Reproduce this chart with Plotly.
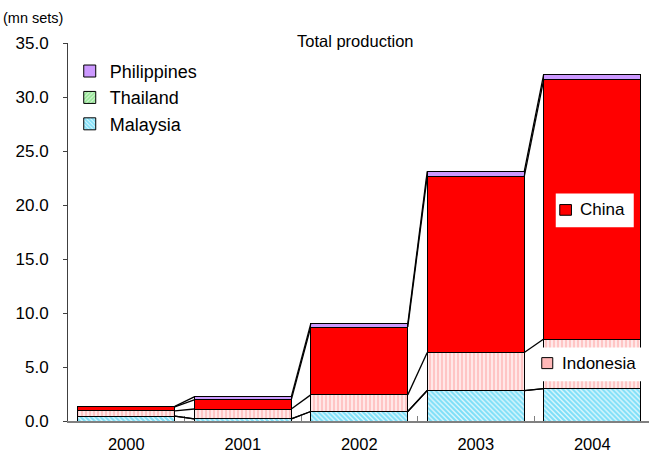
import plotly.graph_objects as go

# Production by country (mn sets), stacked bottom to top
years = ["2000", "2001", "2002", "2003", "2004"]
malaysia = [0.46, 0.20, 0.88, 2.82, 3.00]
thailand = [0.0, 0.0, 0.0, 0.0, 0.0]
indonesia = [0.47, 0.91, 1.54, 3.52, 4.59]
china = [0.37, 0.85, 6.28, 16.32, 24.05]
philippines = [0.05, 0.28, 0.29, 0.45, 0.48]

y_ticks = [0, 5, 10, 15, 20, 25, 30, 35]

FONT = "Arial, Liberation Sans, sans-serif"
BAR_GAP = 0.167
HALF = (1 - BAR_GAP) / 2

series = [
    dict(name="Malaysia", values=malaysia, color="#00ccff",
         pattern=dict(shape="\\", fgcolor="#00bff0", bgcolor="white", size=3.5, solidity=0.72),
         legend=True, rank=3),
    dict(name="Thailand", values=thailand, color="#33cc33",
         pattern=dict(shape="/", fgcolor="#22cc22", bgcolor="white", size=3.5, solidity=0.7),
         legend=True, rank=2),
    dict(name="Indonesia", values=indonesia, color="#ff9999",
         pattern=dict(shape="|", fgcolor="#ff8c8c", bgcolor="white", size=4, solidity=0.7),
         legend=False, rank=5),
    dict(name="China", values=china, color="#ff0000", pattern=None, legend=False, rank=4),
    dict(name="Philippines", values=philippines, color="#cc99ff", pattern=None,
         legend=True, rank=1),
]

fig = go.Figure()
for s in series:
    marker = dict(color=s["color"], line=dict(color="#000000", width=1))
    if s["pattern"]:
        marker["pattern"] = s["pattern"]
    fig.add_trace(go.Bar(
        x=years, y=s["values"], name=s["name"], marker=marker,
        showlegend=s["legend"], legendrank=s["rank"],
    ))

# Cumulative tops of each stacked segment
tops = []
running = [0.0] * len(years)
for s in series:
    running = [r + v for r, v in zip(running, s["values"])]
    tops.append(list(running))

shapes = []
# Series lines joining the segment tops of neighbouring bars
for level in tops:
    for i in range(len(years) - 1):
        shapes.append(dict(
            type="line", xref="x", yref="y",
            x0=i + HALF, x1=i + 1 - HALF, y0=level[i], y1=level[i + 1],
            line=dict(color="#000000", width=1.3), layer="above",
        ))

# In-bar labels for China and Indonesia on the 2004 bar
last = len(years) - 1
label_specs = [
    dict(name="China", lo=tops[2][last], hi=tops[3][last], key="#ff0000",
         box=(-36.5, 41.5, -18, 15.6), keybox=(-32.5, -20.8, -6.1, 4.6), text_dx=-14.5),
    dict(name="Indonesia", lo=tops[1][last], hi=tops[2][last], key="#ffb8b8",
         box=(-56.5, 60, -17.5, 16.2), keybox=(-50.5, -39.5, -4.8, 6.2), text_dx=-32.5),
]
annotations = []
for lab in label_specs:
    mid = (lab["lo"] + lab["hi"]) / 2
    bx0, bx1, by0, by1 = lab["box"]
    shapes.append(dict(
        type="rect", xref="x", yref="y", xsizemode="pixel", ysizemode="pixel",
        xanchor=last, yanchor=mid, x0=bx0, x1=bx1, y0=by0, y1=by1,
        fillcolor="white", line=dict(width=0), layer="above",
    ))
    kx0, kx1, ky0, ky1 = lab["keybox"]
    shapes.append(dict(
        type="rect", xref="x", yref="y", xsizemode="pixel", ysizemode="pixel",
        xanchor=last, yanchor=mid, x0=kx0, x1=kx1, y0=ky0, y1=ky1,
        fillcolor=lab["key"], line=dict(color="#000000", width=1), layer="above",
    ))
    annotations.append(dict(
        x=last, y=mid, xref="x", yref="y", text=lab["name"], showarrow=False,
        xanchor="left", yanchor="middle", xshift=lab["text_dx"],
        font=dict(family=FONT, size=17, color="#000000"),
    ))

annotations.append(dict(
    x=0.494, y=1, xref="paper", yref="paper", text="Total production",
    showarrow=False, xanchor="center", yanchor="middle", yshift=2,
    font=dict(family=FONT, size=16.5, color="#000000"),
))
annotations.append(dict(
    x=-67 / 581, y=1.066, xref="paper", yref="paper", text="(mn sets)",
    showarrow=False, xanchor="left", yanchor="middle",
    font=dict(family=FONT, size=14.5, color="#000000"),
))

fig.update_layout(
    width=649, height=459,
    margin=dict(l=68, r=0, t=43, b=37.5),
    paper_bgcolor="white", plot_bgcolor="white",
    barmode="stack", bargap=BAR_GAP,
    font=dict(family=FONT, size=16, color="#000000"),
    shapes=shapes, annotations=annotations,
    legend=dict(
        x=0.003, y=0.974, xanchor="left", yanchor="top",
        font=dict(family=FONT, size=18, color="#000000"),
        bgcolor="rgba(0,0,0,0)", traceorder="normal", itemwidth=30,
    ),
    xaxis=dict(
        type="category", range=[-0.5, -0.5 + 581 / 116.5],
        showline=True, linecolor="#808080", linewidth=2,
        ticks="inside", tickson="boundaries", ticklen=5, tickcolor="#808080",
        showgrid=False, zeroline=False,
        tickfont=dict(family=FONT, size=16.5, color="#000000"),
        ticklabelstandoff=7,
    ),
    yaxis=dict(
        range=[0, 35], tickvals=y_ticks, tickformat=".1f",
        showline=True, linecolor="#404040", linewidth=1,
        ticks="outside", ticklen=4, tickcolor="#404040",
        showgrid=False, zeroline=False,
        tickfont=dict(family=FONT, size=17, color="#000000"),
        ticklabelstandoff=11,
    ),
)

fig.write_html("out.html")
